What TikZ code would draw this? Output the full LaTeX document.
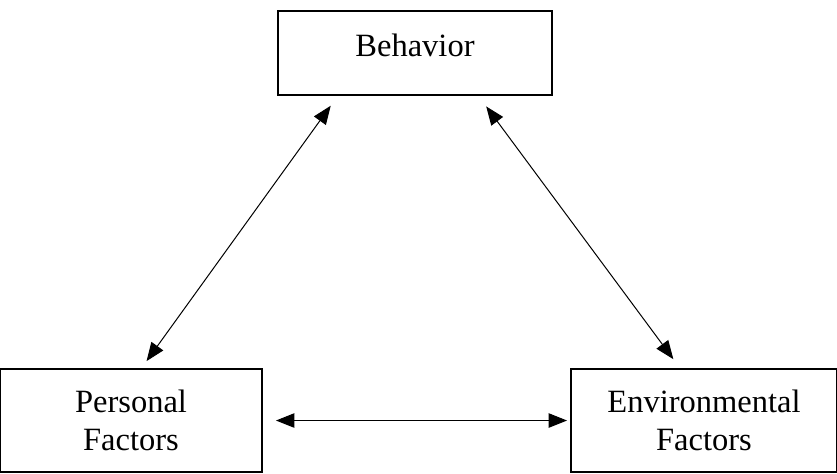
\documentclass[tikz,border=0pt]{standalone}
\usepackage{fontspec}
\setmainfont{Liberation Serif}
\usetikzlibrary{arrows.meta,calc}

\begin{document}
\begin{tikzpicture}[x=0.02cm,y=-0.02cm,
    factor/.style={draw, line width=0.04cm, align=center, inner sep=0pt,
      font=\fontsize{18.5}{21.5}\selectfont},
    link/.style={{Triangle[length=0.37cm,width=0.29cm]}-{Triangle[length=0.37cm,width=0.29cm]},
      line width=0.02cm}]
    \useasboundingbox (0,0) rectangle (837,473);

    \node[factor, minimum width=5.48cm, minimum height=1.68cm] (beh) at (415,53)
      {\raisebox{0.3cm}{Behavior}};
    \node[factor, minimum width=5.24cm, minimum height=2.06cm] (pers) at (131,420.5)
      {Personal\\Factors};
    \node[factor, minimum width=5.32cm, minimum height=2.06cm] (env) at (704,420.5)
      {Environmental\\Factors};

    \draw[link, shorten <=0.24cm, shorten >=0.17cm]
      ($(beh.south west)!0.22!(beh.south east)$) -- ($(pers.north west)!0.54!(pers.north east)$);
    \draw[link, shorten <=0.26cm, shorten >=0.22cm]
      ($(beh.south west)!0.73!(beh.south east)$) -- ($(env.north west)!0.41!(env.north east)$);
    \draw[link, shorten <=0.26cm, shorten >=0.06cm] (pers.east) -- (env.west);
  \end{tikzpicture}
\end{document}
